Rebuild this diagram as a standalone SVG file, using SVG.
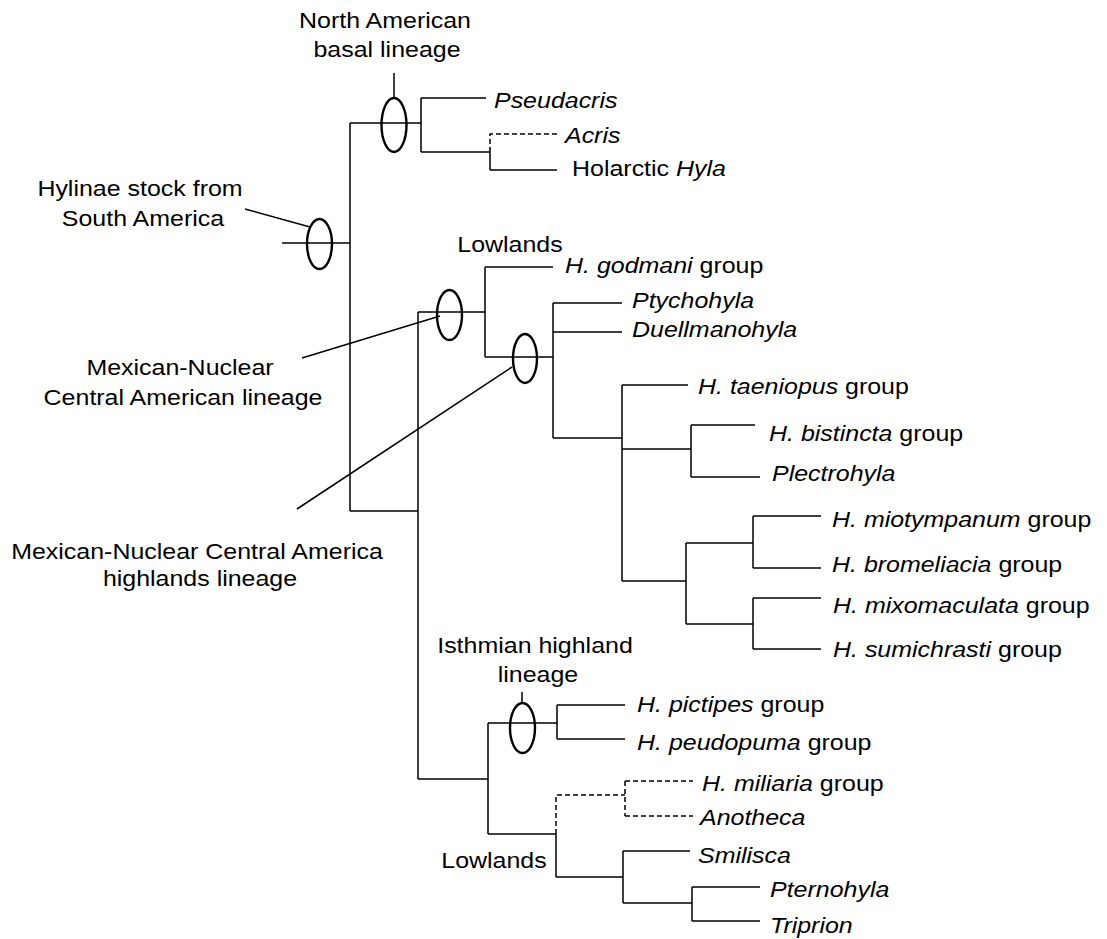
<svg xmlns="http://www.w3.org/2000/svg" width="1107" height="939" viewBox="0 0 1107 939">
<style>
  .ln { stroke: #000; stroke-width: 1.5; fill: none; }
  .ds { stroke: #000; stroke-width: 1.5; fill: none; stroke-dasharray: 5 3; }
  .el { stroke: #000; stroke-width: 2.4; fill: none; }
  text { font-family: "Liberation Sans", Arial, sans-serif; font-size: 22.5px; fill: #000; }
  .m { text-anchor: middle; }
  .i { font-style: italic; }
</style>
<rect width="1107" height="939" fill="#fff"/>
<g id="connectors">
  <!-- root -->
  <path class="ln" d="M282,243 H350 M350,123 V511"/>
  <!-- North American clade -->
  <path class="ln" d="M350,123 H421 M421,98 V152 M421,98 H486 M421,152 H490 M490,152 V170 M490,170 H557"/>
  <path class="ds" d="M490,152 V134 H558"/>
  <!-- Mexican / Central American -->
  <path class="ln" d="M350,511 H418 M418,312 V779"/>
  <path class="ln" d="M418,312 H485 M485,267 V357 M485,267 H553 M485,357 H553 M553,303 V438 M553,303 H622 M553,332 H622 M553,438 H622"/>
  <path class="ln" d="M622,385 V581 M622,385 H688 M622,449 H691 M691,425 V477 M691,425 H755 M691,477 H760"/>
  <path class="ln" d="M622,581 H686 M686,543 V624 M686,543 H753 M753,516 V568 M753,516 H821 M753,568 H821 M686,624 H753 M753,598 V649 M753,598 H821 M753,649 H821"/>
  <!-- Isthmian / lowlands -->
  <path class="ln" d="M418,779 H488 M488,723 V834 M488,723 H557 M557,705 V739 M557,705 H625 M557,739 H625"/>
  <path class="ln" d="M488,834 H556 M556,834 V877 M556,877 H623 M623,851 V903 M623,851 H690 M623,903 H692 M692,887 V921 M692,887 H760 M692,921 H760"/>
  <path class="ds" d="M556,834 V795 H625 M625,781 V816 M625,781 H693 M625,816 H693"/>
  <!-- leader lines -->
  <path class="ln" d="M394,73 V98 M245,209 L310,227 M302,358 L440,316 M297,509 L512,367 M522,692 V703"/>
</g>
<g id="node-north-american">
  <ellipse class="el" cx="394" cy="125" rx="12.5" ry="27"/>
  <text class="m" transform="translate(385,28) scale(1.11,1)">North American</text>
  <text class="m" transform="translate(387,57) scale(1.11,1)">basal lineage</text>
</g>
<g id="node-hylinae">
  <ellipse class="el" cx="319.5" cy="244" rx="12.5" ry="25"/>
  <text class="m" transform="translate(140,196) scale(1.11,1)">Hylinae stock from</text>
  <text class="m" transform="translate(143,226) scale(1.11,1)">South America</text>
</g>
<g id="node-mexican-nuclear">
  <ellipse class="el" cx="449.5" cy="315" rx="12.5" ry="25"/>
  <text class="m" transform="translate(180,375) scale(1.11,1)">Mexican-Nuclear</text>
  <text class="m" transform="translate(183,405) scale(1.11,1)">Central American lineage</text>
</g>
<g id="node-highlands">
  <ellipse class="el" cx="525" cy="358.5" rx="12" ry="24.5"/>
  <text class="m" transform="translate(197,559) scale(1.11,1)">Mexican-Nuclear Central America</text>
  <text class="m" transform="translate(200,586) scale(1.11,1)">highlands lineage</text>
</g>
<g id="node-lowlands-top">
  <text class="m" transform="translate(510,252) scale(1.11,1)">Lowlands</text>
</g>
<g id="node-isthmian">
  <ellipse class="el" cx="522.5" cy="728" rx="12.5" ry="25"/>
  <text class="m" transform="translate(535,653) scale(1.11,1)">Isthmian highland</text>
  <text class="m" transform="translate(538,682) scale(1.11,1)">lineage</text>
</g>
<g id="node-lowlands-bottom">
  <text class="m" transform="translate(494,868) scale(1.11,1)">Lowlands</text>
</g>
<g id="tip-pseudacris"><text class="i" transform="translate(494,108) scale(1.11,1)">Pseudacris</text></g>
<g id="tip-acris"><text class="i" transform="translate(565,143) scale(1.11,1)">Acris</text></g>
<g id="tip-hyla"><text transform="translate(572,176) scale(1.11,1)">Holarctic <tspan class="i">Hyla</tspan></text></g>
<g id="tip-godmani"><text transform="translate(565,273) scale(1.11,1)"><tspan class="i">H. godmani</tspan> group</text></g>
<g id="tip-ptychohyla"><text class="i" transform="translate(632,308) scale(1.11,1)">Ptychohyla</text></g>
<g id="tip-duellmanohyla"><text class="i" transform="translate(632,337) scale(1.11,1)">Duellmanohyla</text></g>
<g id="tip-taeniopus"><text transform="translate(698,394) scale(1.11,1)"><tspan class="i">H. taeniopus</tspan> group</text></g>
<g id="tip-bistincta"><text transform="translate(769,441) scale(1.11,1)"><tspan class="i">H. bistincta</tspan> group</text></g>
<g id="tip-plectrohyla"><text class="i" transform="translate(772,481) scale(1.11,1)">Plectrohyla</text></g>
<g id="tip-miotympanum"><text transform="translate(832,527) scale(1.11,1)"><tspan class="i">H. miotympanum</tspan> group</text></g>
<g id="tip-bromeliacia"><text transform="translate(832,572) scale(1.11,1)"><tspan class="i">H. bromeliacia</tspan> group</text></g>
<g id="tip-mixomaculata"><text transform="translate(833,613) scale(1.11,1)"><tspan class="i">H. mixomaculata</tspan> group</text></g>
<g id="tip-sumichrasti"><text transform="translate(833,657) scale(1.11,1)"><tspan class="i">H. sumichrasti</tspan> group</text></g>
<g id="tip-pictipes"><text transform="translate(637,712) scale(1.11,1)"><tspan class="i">H. pictipes</tspan> group</text></g>
<g id="tip-peudopuma"><text transform="translate(637,750) scale(1.11,1)"><tspan class="i">H. peudopuma</tspan> group</text></g>
<g id="tip-miliaria"><text transform="translate(702,791) scale(1.11,1)"><tspan class="i">H. miliaria</tspan> group</text></g>
<g id="tip-anotheca"><text class="i" transform="translate(700,825) scale(1.11,1)">Anotheca</text></g>
<g id="tip-smilisca"><text class="i" transform="translate(698,863) scale(1.11,1)">Smilisca</text></g>
<g id="tip-pternohyla"><text class="i" transform="translate(770,897) scale(1.11,1)">Pternohyla</text></g>
<g id="tip-triprion"><text class="i" transform="translate(770,933) scale(1.11,1)">Triprion</text></g>
</svg>
